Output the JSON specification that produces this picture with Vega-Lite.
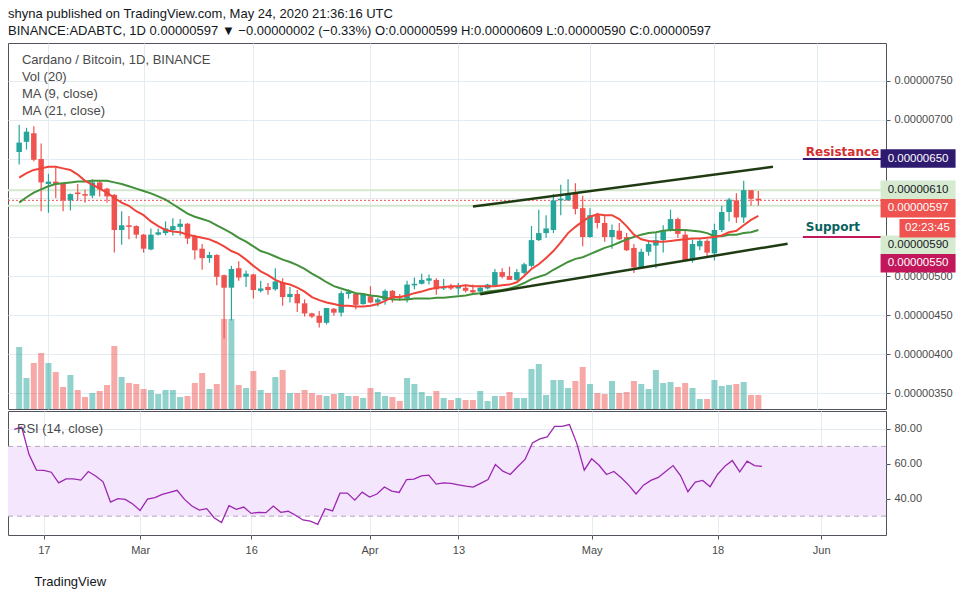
{
  "$schema": "https://vega.github.io/schema/vega-lite/v6.json",
  "padding": {"left": 6, "top": 7, "right": 0, "bottom": 0},
  "background": "white",
  "spacing": 0,
  "title": {
    "text": "shyna published on TradingView.com, May 24, 2020 21:36:16 UTC",
    "subtitle": "BINANCE:ADABTC, 1D  0.00000597 ▼ −0.00000002 (−0.33%)  O:0.00000599  H:0.00000609  L:0.00000590  C:0.00000597",
    "anchor": "start",
    "frame": "group",
    "font": "Liberation Sans",
    "fontSize": 13,
    "fontWeight": "normal",
    "color": "#131722",
    "subtitleFont": "Liberation Sans",
    "subtitleFontSize": 13,
    "subtitleColor": "#131722",
    "subtitlePadding": 4,
    "offset": 5
  },
  "config": {
    "font": "Liberation Sans",
    "view": {"stroke": "#50535e", "strokeWidth": 1},
    "axis": {
      "domain": false,
      "gridColor": "#e3ebf3",
      "gridWidth": 1,
      "tickColor": "#50535e",
      "tickSize": 4,
      "labelColor": "#4a4a4a",
      "labelFont": "Liberation Sans",
      "labelFontSize": 11,
      "labelFlush": false
    }
  },
  "datasets": {
    "daily": [
      {"d":"2020-02-13","o":659,"h":694,"l":643,"c":671,"v":62,"ma9":626,"ma21":594,"rsi":79.8},
      {"d":"2020-02-14","o":672,"h":690,"l":662,"c":685,"v":31,"ma9":632,"ma21":601,"rsi":81.1},
      {"d":"2020-02-15","o":683,"h":692,"l":647,"c":649,"v":46,"ma9":636,"ma21":607,"rsi":65.3},
      {"d":"2020-02-16","o":650,"h":670,"l":583,"c":620,"v":56,"ma9":638,"ma21":611,"rsi":56.4},
      {"d":"2020-02-17","o":618,"h":631,"l":581,"c":621,"v":46,"ma9":640,"ma21":615,"rsi":56.2},
      {"d":"2020-02-18","o":621,"h":639,"l":600,"c":618,"v":37,"ma9":640,"ma21":618,"rsi":55.2},
      {"d":"2020-02-19","o":619,"h":620,"l":583,"c":597,"v":22,"ma9":638,"ma21":619,"rsi":49.1},
      {"d":"2020-02-20","o":597,"h":606,"l":584,"c":605,"v":34,"ma9":636,"ma21":620,"rsi":51.4},
      {"d":"2020-02-21","o":607,"h":618,"l":597,"c":605,"v":19,"ma9":630,"ma21":621,"rsi":51.4},
      {"d":"2020-02-22","o":605,"h":611,"l":594,"c":603,"v":12,"ma9":622,"ma21":621,"rsi":50.7},
      {"d":"2020-02-23","o":603,"h":624,"l":600,"c":620,"v":16,"ma9":617,"ma21":622,"rsi":55.6},
      {"d":"2020-02-24","o":620,"h":622,"l":602,"c":611,"v":18,"ma9":612,"ma21":622,"rsi":53.0},
      {"d":"2020-02-25","o":612,"h":613,"l":594,"c":602,"v":24,"ma9":607,"ma21":622,"rsi":49.7},
      {"d":"2020-02-26","o":604,"h":605,"l":530,"c":559,"v":63,"ma9":600,"ma21":620,"rsi":38.1},
      {"d":"2020-02-27","o":559,"h":583,"l":540,"c":565,"v":32,"ma9":594,"ma21":618,"rsi":40.0},
      {"d":"2020-02-28","o":565,"h":577,"l":547,"c":563,"v":26,"ma9":590,"ma21":615,"rsi":39.6},
      {"d":"2020-02-29","o":564,"h":565,"l":548,"c":553,"v":25,"ma9":583,"ma21":612,"rsi":37.0},
      {"d":"2020-03-01","o":553,"h":554,"l":530,"c":535,"v":20,"ma9":578,"ma21":609,"rsi":33.3},
      {"d":"2020-03-02","o":534,"h":561,"l":533,"c":553,"v":19,"ma9":570,"ma21":606,"rsi":39.8},
      {"d":"2020-03-03","o":553,"h":561,"l":552,"c":556,"v":15,"ma9":564,"ma21":602,"rsi":40.6},
      {"d":"2020-03-04","o":555,"h":570,"l":552,"c":561,"v":19,"ma9":559,"ma21":598,"rsi":42.5},
      {"d":"2020-03-05","o":559,"h":574,"l":552,"c":564,"v":19,"ma9":557,"ma21":592,"rsi":43.6},
      {"d":"2020-03-06","o":563,"h":573,"l":552,"c":567,"v":12,"ma9":556,"ma21":586,"rsi":44.8},
      {"d":"2020-03-07","o":567,"h":568,"l":541,"c":548,"v":13,"ma9":553,"ma21":580,"rsi":39.6},
      {"d":"2020-03-08","o":551,"h":553,"l":521,"c":533,"v":26,"ma9":551,"ma21":576,"rsi":35.8},
      {"d":"2020-03-09","o":535,"h":541,"l":508,"c":523,"v":36,"ma9":549,"ma21":573,"rsi":33.5},
      {"d":"2020-03-10","o":523,"h":531,"l":517,"c":527,"v":20,"ma9":547,"ma21":570,"rsi":34.3},
      {"d":"2020-03-11","o":527,"h":528,"l":488,"c":499,"v":25,"ma9":543,"ma21":565,"rsi":29.1},
      {"d":"2020-03-12","o":501,"h":502,"l":420,"c":485,"v":90,"ma9":538,"ma21":560,"rsi":26.3},
      {"d":"2020-03-13","o":485,"h":513,"l":443,"c":509,"v":90,"ma9":532,"ma21":555,"rsi":36.0},
      {"d":"2020-03-14","o":510,"h":519,"l":494,"c":498,"v":24,"ma9":528,"ma21":549,"rsi":33.9},
      {"d":"2020-03-15","o":499,"h":507,"l":486,"c":503,"v":21,"ma9":521,"ma21":544,"rsi":35.2},
      {"d":"2020-03-16","o":502,"h":503,"l":471,"c":482,"v":38,"ma9":513,"ma21":538,"rsi":31.6},
      {"d":"2020-03-17","o":481,"h":494,"l":479,"c":484,"v":19,"ma9":506,"ma21":532,"rsi":32.2},
      {"d":"2020-03-18","o":486,"h":491,"l":476,"c":482,"v":16,"ma9":501,"ma21":529,"rsi":32.0},
      {"d":"2020-03-19","o":483,"h":510,"l":481,"c":493,"v":32,"ma9":495,"ma21":525,"rsi":35.8},
      {"d":"2020-03-20","o":492,"h":497,"l":462,"c":473,"v":39,"ma9":491,"ma21":521,"rsi":32.2},
      {"d":"2020-03-21","o":473,"h":486,"l":466,"c":477,"v":16,"ma9":489,"ma21":518,"rsi":32.8},
      {"d":"2020-03-22","o":477,"h":482,"l":454,"c":465,"v":16,"ma9":485,"ma21":514,"rsi":30.5},
      {"d":"2020-03-23","o":465,"h":470,"l":448,"c":452,"v":19,"ma9":480,"ma21":509,"rsi":27.8},
      {"d":"2020-03-24","o":452,"h":453,"l":446,"c":448,"v":16,"ma9":473,"ma21":503,"rsi":27.2},
      {"d":"2020-03-25","o":449,"h":455,"l":434,"c":440,"v":14,"ma9":469,"ma21":498,"rsi":25.3},
      {"d":"2020-03-26","o":440,"h":459,"l":438,"c":459,"v":13,"ma9":466,"ma21":492,"rsi":34.3},
      {"d":"2020-03-27","o":458,"h":459,"l":449,"c":453,"v":15,"ma9":464,"ma21":487,"rsi":33.0},
      {"d":"2020-03-28","o":453,"h":481,"l":448,"c":478,"v":16,"ma9":462,"ma21":484,"rsi":43.2},
      {"d":"2020-03-29","o":477,"h":483,"l":471,"c":480,"v":13,"ma9":462,"ma21":481,"rsi":43.2},
      {"d":"2020-03-30","o":477,"h":478,"l":457,"c":463,"v":13,"ma9":461,"ma21":478,"rsi":39.2},
      {"d":"2020-03-31","o":464,"h":478,"l":463,"c":477,"v":11,"ma9":461,"ma21":477,"rsi":43.8},
      {"d":"2020-04-01","o":474,"h":487,"l":465,"c":466,"v":21,"ma9":462,"ma21":475,"rsi":41.0},
      {"d":"2020-04-02","o":466,"h":472,"l":461,"c":470,"v":17,"ma9":464,"ma21":474,"rsi":42.7},
      {"d":"2020-04-03","o":469,"h":483,"l":463,"c":481,"v":13,"ma9":468,"ma21":472,"rsi":46.7},
      {"d":"2020-04-04","o":481,"h":482,"l":466,"c":471,"v":12,"ma9":473,"ma21":470,"rsi":44.4},
      {"d":"2020-04-05","o":474,"h":477,"l":468,"c":472,"v":8,"ma9":473,"ma21":470,"rsi":43.6},
      {"d":"2020-04-06","o":471,"h":494,"l":466,"c":489,"v":31,"ma9":475,"ma21":470,"rsi":51.0},
      {"d":"2020-04-07","o":488,"h":498,"l":483,"c":490,"v":25,"ma9":478,"ma21":471,"rsi":51.2},
      {"d":"2020-04-08","o":490,"h":503,"l":489,"c":495,"v":17,"ma9":480,"ma21":471,"rsi":53.1},
      {"d":"2020-04-09","o":494,"h":502,"l":489,"c":497,"v":13,"ma9":483,"ma21":471,"rsi":53.5},
      {"d":"2020-04-10","o":495,"h":497,"l":476,"c":483,"v":18,"ma9":485,"ma21":472,"rsi":48.4},
      {"d":"2020-04-11","o":484,"h":496,"l":482,"c":486,"v":11,"ma9":486,"ma21":472,"rsi":49.1},
      {"d":"2020-04-12","o":486,"h":490,"l":482,"c":484,"v":9,"ma9":487,"ma21":473,"rsi":48.8},
      {"d":"2020-04-13","o":484,"h":491,"l":476,"c":486,"v":11,"ma9":487,"ma21":474,"rsi":48.0},
      {"d":"2020-04-14","o":485,"h":489,"l":479,"c":481,"v":9,"ma9":488,"ma21":475,"rsi":47.2},
      {"d":"2020-04-15","o":482,"h":489,"l":477,"c":479,"v":9,"ma9":487,"ma21":477,"rsi":46.7},
      {"d":"2020-04-16","o":480,"h":487,"l":476,"c":485,"v":18,"ma9":487,"ma21":478,"rsi":48.8},
      {"d":"2020-04-17","o":484,"h":490,"l":483,"c":489,"v":8,"ma9":487,"ma21":480,"rsi":51.0},
      {"d":"2020-04-18","o":488,"h":509,"l":487,"c":505,"v":13,"ma9":487,"ma21":481,"rsi":59.6},
      {"d":"2020-04-19","o":505,"h":510,"l":497,"c":499,"v":13,"ma9":488,"ma21":482,"rsi":55.8},
      {"d":"2020-04-20","o":500,"h":512,"l":495,"c":495,"v":17,"ma9":489,"ma21":484,"rsi":53.9},
      {"d":"2020-04-21","o":495,"h":509,"l":494,"c":505,"v":11,"ma9":492,"ma21":487,"rsi":58.3},
      {"d":"2020-04-22","o":504,"h":517,"l":502,"c":515,"v":11,"ma9":500,"ma21":491,"rsi":62.5},
      {"d":"2020-04-23","o":513,"h":564,"l":511,"c":546,"v":40,"ma9":509,"ma21":496,"rsi":72.0},
      {"d":"2020-04-24","o":546,"h":585,"l":545,"c":555,"v":45,"ma9":515,"ma21":499,"rsi":74.3},
      {"d":"2020-04-25","o":555,"h":578,"l":549,"c":561,"v":14,"ma9":523,"ma21":502,"rsi":75.4},
      {"d":"2020-04-26","o":559,"h":605,"l":555,"c":597,"v":29,"ma9":532,"ma21":508,"rsi":81.5},
      {"d":"2020-04-27","o":597,"h":617,"l":578,"c":599,"v":29,"ma9":543,"ma21":513,"rsi":81.5},
      {"d":"2020-04-28","o":597,"h":624,"l":596,"c":605,"v":21,"ma9":555,"ma21":518,"rsi":82.5},
      {"d":"2020-04-29","o":607,"h":619,"l":579,"c":586,"v":28,"ma9":563,"ma21":522,"rsi":71.6},
      {"d":"2020-04-30","o":587,"h":603,"l":538,"c":550,"v":42,"ma9":570,"ma21":524,"rsi":56.4},
      {"d":"2020-05-01","o":550,"h":587,"l":549,"c":578,"v":25,"ma9":576,"ma21":528,"rsi":62.9},
      {"d":"2020-05-02","o":578,"h":581,"l":561,"c":568,"v":16,"ma9":579,"ma21":532,"rsi":59.2},
      {"d":"2020-05-03","o":568,"h":579,"l":544,"c":550,"v":15,"ma9":578,"ma21":536,"rsi":53.9},
      {"d":"2020-05-04","o":550,"h":566,"l":535,"c":559,"v":28,"ma9":578,"ma21":539,"rsi":55.6},
      {"d":"2020-05-05","o":558,"h":568,"l":546,"c":547,"v":16,"ma9":573,"ma21":543,"rsi":52.0},
      {"d":"2020-05-06","o":550,"h":555,"l":532,"c":533,"v":17,"ma9":564,"ma21":547,"rsi":47.8},
      {"d":"2020-05-07","o":536,"h":541,"l":504,"c":511,"v":28,"ma9":553,"ma21":550,"rsi":42.7},
      {"d":"2020-05-08","o":511,"h":535,"l":510,"c":531,"v":25,"ma9":547,"ma21":553,"rsi":47.8},
      {"d":"2020-05-09","o":531,"h":546,"l":526,"c":541,"v":20,"ma9":545,"ma21":555,"rsi":50.5},
      {"d":"2020-05-10","o":539,"h":555,"l":510,"c":546,"v":39,"ma9":544,"ma21":556,"rsi":52.2},
      {"d":"2020-05-11","o":546,"h":565,"l":530,"c":559,"v":26,"ma9":544,"ma21":558,"rsi":55.6},
      {"d":"2020-05-12","o":558,"h":585,"l":557,"c":573,"v":27,"ma9":545,"ma21":559,"rsi":59.0},
      {"d":"2020-05-13","o":573,"h":575,"l":549,"c":554,"v":22,"ma9":546,"ma21":559,"rsi":53.3},
      {"d":"2020-05-14","o":553,"h":558,"l":519,"c":520,"v":26,"ma9":547,"ma21":559,"rsi":44.0},
      {"d":"2020-05-15","o":520,"h":547,"l":517,"c":541,"v":21,"ma9":548,"ma21":558,"rsi":49.5},
      {"d":"2020-05-16","o":538,"h":547,"l":533,"c":545,"v":10,"ma9":548,"ma21":557,"rsi":50.5},
      {"d":"2020-05-17","o":545,"h":547,"l":524,"c":530,"v":10,"ma9":549,"ma21":555,"rsi":46.9},
      {"d":"2020-05-18","o":529,"h":567,"l":520,"c":559,"v":29,"ma9":550,"ma21":551,"rsi":53.9},
      {"d":"2020-05-19","o":559,"h":590,"l":556,"c":582,"v":23,"ma9":552,"ma21":551,"rsi":58.7},
      {"d":"2020-05-20","o":582,"h":600,"l":570,"c":598,"v":24,"ma9":556,"ma21":553,"rsi":61.9},
      {"d":"2020-05-21","o":597,"h":606,"l":568,"c":575,"v":25,"ma9":558,"ma21":553,"rsi":55.4},
      {"d":"2020-05-22","o":575,"h":622,"l":568,"c":610,"v":27,"ma9":565,"ma21":555,"rsi":61.5},
      {"d":"2020-05-23","o":610,"h":610,"l":590,"c":599,"v":14,"ma9":572,"ma21":556,"rsi":59.0},
      {"d":"2020-05-24","o":599,"h":609,"l":590,"c":597,"v":14,"ma9":577,"ma21":559,"rsi":58.5}
    ],
    "tags": [
      {"kind":"res","label":"0.00000650","price":650,"at":650.6,"note":"Resistance"},
      {"kind":"hl","label":"0.00000610","price":610,"at":610.6},
      {"kind":"last","label":"0.00000597","price":597,"at":586.8},
      {"kind":"timer","label":"02:23:45","price":597,"at":561.2},
      {"kind":"hl","label":"0.00000590","price":590,"at":540.1},
      {"kind":"sup","label":"0.00000550","price":550,"at":516.3,"note":"Support"}
    ],
    "trend": [
      {"line":"upper","d":"2020-04-15","p":589},
      {"line":"upper","d":"2020-05-26","p":640},
      {"line":"lower","d":"2020-04-16","p":476.5},
      {"line":"lower","d":"2020-05-28","p":541.4}
    ]
  },
  "vconcat": [
    {
      "width": 878,
      "height": 366,
      "layer": [
        {
          "data": {"name": "daily"},
          "mark": {"type": "bar", "width": 6, "opacity": 0.5},
          "encoding": {
            "x": {
              "field": "d", "type": "temporal",
              "scale": {"type": "utc", "domain": [1581479078400, 1591726464000]},
              "axis": {
                "values": [1581897600000, 1583020800000, 1584316800000, 1585699200000, 1586736000000, 1588291200000, 1589760000000, 1590969600000],
                "labels": false, "ticks": false, "domain": false, "grid": true, "title": null
              }
            },
            "y": {"field": "v", "type": "quantitative", "scale": {"domain": [0, 366], "nice": false}, "axis": null},
            "color": {"condition": {"test": "datum.c >= datum.o", "value": "#26a69a"}, "value": "#ef5350"}
          }
        },
        {
          "layer": [
            {
              "data": {"name": "tags"},
              "transform": [{"filter": "datum.kind == 'hl'"}],
              "mark": {"type": "rule", "color": "#d4e8cd", "strokeWidth": 2},
              "encoding": {
                "y": {
                  "field": "price", "type": "quantitative",
                  "scale": {"domain": [329.5, 798.7], "nice": false, "zero": false},
                  "axis": {
                    "orient": "right", "values": [350, 400, 450, 500, 550, 600, 650, 700, 750],
                    "labelExpr": "(datum.value == 550 || datum.value == 600 || datum.value == 650) ? '' : format(datum.value / 100000000, '.8f')",
                    "grid": true, "title": null, "labelPadding": 4
                  }
                }
              }
            },
            {
              "data": {"name": "tags"},
              "transform": [{"filter": "datum.kind == 'last'"}],
              "mark": {"type": "rule", "color": "#ef5350", "strokeWidth": 1, "strokeDash": [2, 2]},
              "encoding": {"y": {"field": "price", "type": "quantitative", "title": null}}
            },
            {
              "data": {"name": "daily"},
              "mark": {"type": "rule", "strokeWidth": 1.2},
              "encoding": {
                "x": {"field": "d", "type": "temporal", "title": null},
                "y": {"field": "l", "type": "quantitative", "scale": {"domain": [329.5, 798.7], "nice": false, "zero": false}, "title": null},
                "y2": {"field": "h"},
                "color": {"condition": {"test": "datum.c >= datum.o", "value": "#26a69a"}, "value": "#ef5350"}
              }
            },
            {
              "data": {"name": "daily"},
              "mark": {"type": "bar", "width": 5.5},
              "encoding": {
                "x": {"field": "d", "type": "temporal", "title": null},
                "y": {"field": "o", "type": "quantitative", "title": null},
                "y2": {"field": "c"},
                "color": {"condition": {"test": "datum.c >= datum.o", "value": "#26a69a"}, "value": "#ef5350"}
              }
            },
            {
              "data": {"name": "daily"},
              "mark": {"type": "line", "color": "#43913b", "strokeWidth": 2},
              "encoding": {
                "x": {"field": "d", "type": "temporal", "title": null},
                "y": {"field": "ma21", "type": "quantitative", "title": null}
              }
            },
            {
              "data": {"name": "daily"},
              "mark": {"type": "line", "color": "#f0443a", "strokeWidth": 2},
              "encoding": {
                "x": {"field": "d", "type": "temporal", "title": null},
                "y": {"field": "ma9", "type": "quantitative", "title": null}
              }
            },
            {
              "data": {"name": "trend"},
              "mark": {"type": "line", "color": "#1f3b12", "strokeWidth": 2.5},
              "encoding": {
                "x": {"field": "d", "type": "temporal", "title": null},
                "y": {"field": "p", "type": "quantitative", "title": null},
                "detail": {"field": "line"}
              }
            },
            {
              "data": {"name": "tags"},
              "transform": [{"filter": "datum.kind == 'res' || datum.kind == 'sup'"}],
              "mark": {"type": "rule", "strokeWidth": 2},
              "encoding": {
                "x": {"datum": 1590804000000, "type": "temporal"},
                "x2": {"datum": 1591726464000},
                "y": {"field": "price", "type": "quantitative", "title": null},
                "color": {"condition": {"test": "datum.kind == 'res'", "value": "#2e1a6f"}, "value": "#c2185b"}
              }
            },
            {
              "data": {"name": "tags"},
              "transform": [{"filter": "datum.kind == 'res'"}],
              "mark": {"type": "text", "align": "left", "baseline": "alphabetic", "dy": -3, "font": "DejaVu Sans", "fontSize": 12, "fontWeight": "bold", "color": "#d32f2f"},
              "encoding": {
                "x": {"datum": 1590839136000, "type": "temporal"},
                "y": {"field": "price", "type": "quantitative", "title": null},
                "text": {"field": "note"}
              }
            },
            {
              "data": {"name": "tags"},
              "transform": [{"filter": "datum.kind == 'sup'"}],
              "mark": {"type": "text", "align": "left", "baseline": "alphabetic", "dy": -6, "font": "DejaVu Sans", "fontSize": 12, "fontWeight": "bold", "color": "#08625e"},
              "encoding": {
                "x": {"datum": 1590839136000, "type": "temporal"},
                "y": {"field": "price", "type": "quantitative", "title": null},
                "text": {"field": "note"}
              }
            },
            {
              "data": {"name": "tags"},
              "transform": [{"filter": "datum.kind != 'timer'"}],
              "mark": {"type": "tick", "orient": "horizontal", "size": 75, "thickness": 18.5, "opacity": 1},
              "encoding": {
                "x": {"datum": 1592164080000, "type": "temporal"},
                "y": {"field": "at", "type": "quantitative", "title": null},
                "color": {
                  "field": "kind", "type": "nominal",
                  "scale": {"domain": ["res", "hl", "last", "timer", "sup"], "range": ["#2e1a6f", "#d6ead0", "#ef5350", "#ef5350", "#c2185b"]},
                  "legend": null
                }
              }
            },
            {
              "data": {"name": "tags"},
              "transform": [{"filter": "datum.kind != 'timer'"}],
              "mark": {"type": "text", "align": "center", "baseline": "middle", "fontSize": 11.5},
              "encoding": {
                "x": {"datum": 1592164080000, "type": "temporal"},
                "y": {"field": "at", "type": "quantitative", "title": null},
                "text": {"field": "label"},
                "color": {"condition": {"test": "datum.kind == 'hl'", "value": "#131722"}, "value": "#ffffff"}
              }
            },
            {
              "data": {"name": "tags"},
              "transform": [{"filter": "datum.kind == 'timer'"}],
              "mark": {"type": "tick", "orient": "horizontal", "size": 56, "thickness": 18.5, "opacity": 1, "color": "#ef5350"},
              "encoding": {
                "x": {"datum": 1592275104000, "type": "temporal"},
                "y": {"field": "at", "type": "quantitative", "title": null}
              }
            },
            {
              "data": {"name": "tags"},
              "transform": [{"filter": "datum.kind == 'timer'"}],
              "mark": {"type": "text", "align": "center", "baseline": "middle", "fontSize": 11.5, "color": "#ffffff"},
              "encoding": {
                "x": {"datum": 1592275104000, "type": "temporal"},
                "y": {"field": "at", "type": "quantitative", "title": null},
                "text": {"field": "label"}
              }
            },
            {
              "data": {"values": [{}]},
              "mark": {
                "type": "text", "align": "left", "baseline": "top", "fontSize": 13, "lineHeight": 17, "color": "#4a4a4a",
                "text": ["Cardano / Bitcoin, 1D, BINANCE", "Vol (20)", "MA (9, close)", "MA (21, close)"]
              },
              "encoding": {
                "x": {"datum": 1581584000000, "type": "temporal"},
                "y": {"datum": 784.6, "type": "quantitative"}
              }
            }
          ]
        }
      ],
      "resolve": {"scale": {"y": "independent"}}
    },
    {
      "width": 878,
      "height": 124,
      "layer": [
        {
          "data": {"values": [{}]},
          "mark": {"type": "rect", "color": "#f3e6fd"},
          "encoding": {
            "y": {"datum": 30, "type": "quantitative", "scale": {"domain": [19.2, 90.3], "nice": false, "zero": false}},
            "y2": {"datum": 70}
          }
        },
        {
          "data": {"values": [{"lvl": 30}, {"lvl": 70}]},
          "mark": {"type": "rule", "color": "#b3a6ba", "strokeWidth": 1, "strokeDash": [5, 4]},
          "encoding": {"y": {"field": "lvl", "type": "quantitative", "title": null}}
        },
        {
          "data": {"name": "daily"},
          "mark": {"type": "line", "color": "#9c27b0", "strokeWidth": 1.3},
          "encoding": {
            "x": {
              "field": "d", "type": "temporal",
              "scale": {"type": "utc", "domain": [1581479078400, 1591726464000]},
              "axis": {
                "values": [1581897600000, 1583020800000, 1584316800000, 1585699200000, 1586736000000, 1588291200000, 1589760000000, 1590969600000],
                "labelExpr": "utcdate(datum.value) == 1 ? utcFormat(datum.value, '%b') : utcFormat(datum.value, '%d')",
                "grid": true, "ticks": true, "tickSize": 4, "labelPadding": 5,
                "title": "TradingView", "titleAlign": "left", "titleAnchor": "start", "titleX": 26, "titleY": 46,
                "titleBaseline": "middle", "titleFontSize": 13, "titleFontWeight": "normal", "titleColor": "#131722", "titleFont": "Liberation Sans"
              }
            },
            "y": {
              "field": "rsi", "type": "quantitative",
              "scale": {"domain": [19.2, 90.3], "nice": false, "zero": false},
              "axis": {"orient": "right", "values": [40, 60, 80], "format": ".2f", "grid": true, "title": null, "labelPadding": 4}
            }
          }
        },
        {
          "data": {"values": [{}]},
          "mark": {"type": "text", "align": "left", "baseline": "middle", "fontSize": 13, "color": "#4a4a4a", "text": "RSI (14, close)"},
          "encoding": {
            "x": {"datum": 1581584000000, "type": "temporal"},
            "y": {"datum": 80, "type": "quantitative"}
          }
        }
      ]
    }
  ]
}
